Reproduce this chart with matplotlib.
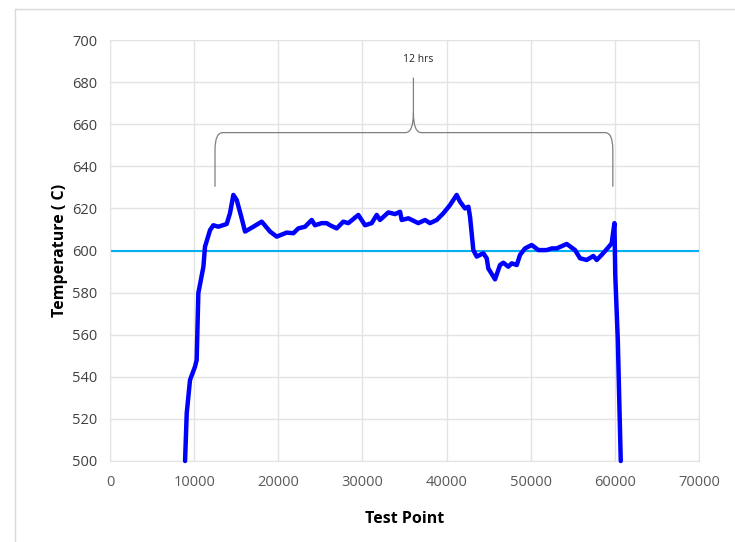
import numpy as np
import matplotlib
matplotlib.use("Agg")
import matplotlib.pyplot as plt
from matplotlib.path import Path
from matplotlib.patches import PathPatch
from matplotlib.lines import Line2D

plt.rcParams['font.family'] = ['Open Sans', 'DejaVu Sans']

test_point = [8920, 9120, 9510, 10100, 10300, 10500, 11100, 11290, 11890, 12280,
              12870, 13870, 14260, 14660, 15060, 15650, 16050, 17040, 18030, 19020,
              19810, 21000, 21790, 22380, 23180, 23970, 24360, 25160, 25750, 26150,
              26940, 27730, 28320, 29510, 30310, 31100, 31700, 32090, 33080, 33870,
              34470, 34670, 35460, 36640, 37440, 38030, 38830, 39620, 40410, 41200,
              41600, 42190, 42590, 42790, 43180, 43580, 44370, 44770, 44960, 45760,
              46350, 46740, 47340, 47740, 48340, 48730, 49320, 50120, 50910, 51900,
              52500, 53090, 54280, 55270, 55860, 56650, 57440, 57840, 58430, 59030,
              59620, 59950, 60050, 60350, 60700]
temperature = [500, 522.8, 538.5, 544.8, 548, 579.8, 592.3, 601.8, 609.7, 612,
               611.3, 612.6, 617.7, 626.4, 624, 615.3, 609, 611.3, 613.7, 609,
               606.6, 608.5, 608.2, 610.5, 611.3, 614.5, 612, 613, 613, 612,
               610.5, 613.7, 613, 616.9, 612, 613, 616.9, 614.5, 618.1, 617.3,
               618.4, 614.5, 615.3, 613, 614.5, 613, 614.5, 617.7, 621.6, 626.4,
               623.2, 620, 620.8, 616, 600.2, 597.1, 598.7, 596.3, 591.5, 586.3,
               593.1, 594.2, 592.3, 593.9, 593.1, 597.9, 601, 602.6, 600.2, 600.2,
               601, 601, 603.1, 600.2, 596.3, 595.5, 597.4, 595.5, 597.9, 600.6,
               603.4, 613, 588, 557.5, 500]
setpoint = 600
brace_start, brace_end, brace_mid = 12480, 59760, 36060
brace_label = "12 hrs"

fig = plt.figure(figsize=(7.35, 5.42), dpi=100)
ax = fig.add_axes([110/735, 1 - 461/542, 589/735, 421/542])

# chart-area frame (left and top edges only are visible)
fig.add_artist(Line2D([15.5/735, 15.5/735], [0, 1 - 8.5/542], color='#d9d9d9', lw=1))
fig.add_artist(Line2D([15.5/735, 1], [1 - 8.5/542, 1 - 8.5/542], color='#d9d9d9', lw=1))

ax.set_xlim(0, 70000)
ax.set_ylim(500, 700)
ax.set_xticks(range(0, 70001, 10000))
ax.set_yticks(range(500, 701, 20))
ax.grid(True, color='#e3e3e3', lw=1)
ax.set_axisbelow(True)
for s in ax.spines.values():
    s.set_color('#e3e3e3')
ax.tick_params(length=0)
ax.tick_params(axis='y', labelsize=10.5, labelcolor='#404040', pad=9)
ax.tick_params(axis='x', labelsize=10.5, labelcolor='#595959', pad=10)

ax.axhline(setpoint, color='#00b0f0', lw=1.5, zorder=2)
ax.plot(test_point, temperature, color='#0000ff', lw=3.2, zorder=3,
        solid_joinstyle='round', solid_capstyle='round', clip_on=False)

# curly brace
px = 70000 / 589
py = 200 / 421
top = 656
bot = 630.3
verts = [(brace_start, bot), (brace_start, top - 17 * py),
         (brace_start, top), (brace_start + 8 * px, top),
         (brace_mid - 8 * px, top),
         (brace_mid, top), (brace_mid, top + 20 * py),
         (brace_mid, top + 55 * py)]
codes = [Path.MOVETO, Path.LINETO, Path.CURVE3, Path.CURVE3, Path.LINETO,
         Path.CURVE3, Path.CURVE3, Path.LINETO]
verts += [(brace_mid, top + 20 * py), (brace_mid, top), (brace_mid + 8 * px, top),
          (brace_end - 8 * px, top), (brace_end, top), (brace_end, top - 17 * py),
          (brace_end, bot)]
codes += [Path.MOVETO, Path.CURVE3, Path.CURVE3, Path.LINETO,
          Path.CURVE3, Path.CURVE3, Path.LINETO]
ax.add_patch(PathPatch(Path(verts, codes), fill=False, edgecolor='#7f7f7f', lw=0.9,
                       zorder=4))
ax.text(brace_mid + 600, 690.8, brace_label, fontsize=7.5, color='#262626',
        ha='center', va='center')

ax.set_ylabel('Temperature ( C)', fontsize=11.5, fontweight='bold', labelpad=3)
ax.set_xlabel('Test Point', fontsize=11.5, fontweight='bold', labelpad=15)

fig.savefig('out.png', dpi=100)
